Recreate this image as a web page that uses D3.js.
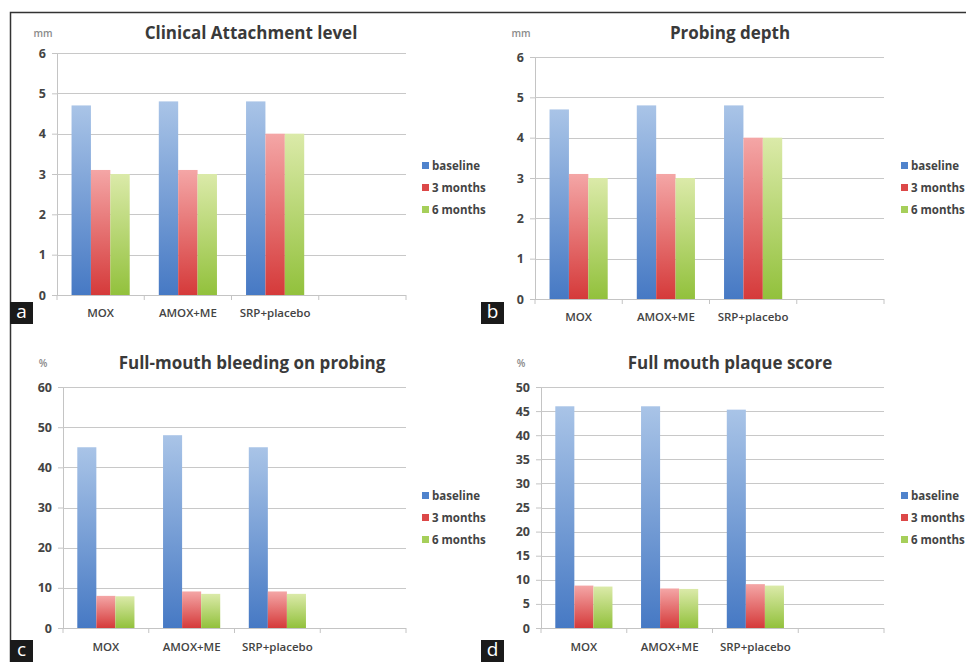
<!DOCTYPE html>
<html>
<head>
<meta charset="utf-8">
<script src="https://cdn.jsdelivr.net/npm/d3@7"></script>
<style>
  body { margin: 0; background: #fff; }
  svg text { font-family: "Open Sans", "DejaVu Sans", sans-serif; }
</style>
</head>
<body>
<svg id="fig" width="966" height="662"></svg>
<script>
// categories (4th slot is empty, as in the original Excel charts)
const categories = ["MOX", "AMOX+ME", "SRP+placebo", ""];
const seriesNames = ["baseline", "3 months", "6 months"];

// a: Clinical Attachment level (mm)
const calBaseline = [4.7, 4.8, 4.8];
const cal3m = [3.1, 3.1, 4.0];
const cal6m = [3.0, 3.0, 4.0];
// b: Probing depth (mm)
const pdBaseline = [4.7, 4.8, 4.8];
const pd3m = [3.1, 3.1, 4.0];
const pd6m = [3.0, 3.0, 4.0];
// c: Full-mouth bleeding on probing (%)
const bopBaseline = [45, 48, 45];
const bop3m = [8.0, 9.1, 9.1];
const bop6m = [7.9, 8.5, 8.5];
// d: Full mouth plaque score (%)
const fmpsBaseline = [46, 46, 45.3];
const fmps3m = [8.8, 8.2, 9.1];
const fmps6m = [8.6, 8.1, 8.8];

const ticksMm = [0, 1, 2, 3, 4, 5, 6];
const ticksBop = [0, 10, 20, 30, 40, 50, 60];
const ticksFmps = [0, 5, 10, 15, 20, 25, 30, 35, 40, 45, 50];

const panels = [
  {tag: "a", title: "Clinical Attachment level", unit: "mm", values: [calBaseline, cal3m, cal6m], ticks: ticksMm,
   left: 57, right: 406, top: 53, bottom: 295, titleX: 251, titleY: 33, unitX: 43, legX: 422, legY: 166, catY: 313, boxX: 10, boxY: 302},
  {tag: "b", title: "Probing depth", unit: "mm", values: [pdBaseline, pd3m, pd6m], ticks: ticksMm,
   left: 535, right: 884, top: 57, bottom: 299, titleX: 730, titleY: 33, unitX: 521, legX: 901, legY: 166, catY: 317, boxX: 481, boxY: 302},
  {tag: "c", title: "Full-mouth bleeding on probing", unit: "%", values: [bopBaseline, bop3m, bop6m], ticks: ticksBop,
   left: 63, right: 406, top: 387, bottom: 628, titleX: 252, titleY: 363, unitX: 43, legX: 422, legY: 496, catY: 647, boxX: 10, boxY: 640},
  {tag: "d", title: "Full mouth plaque score", unit: "%", values: [fmpsBaseline, fmps3m, fmps6m], ticks: ticksFmps,
   left: 541, right: 884, top: 387, bottom: 628, titleX: 730, titleY: 363, unitX: 521, legX: 901, legY: 496, catY: 647, boxX: 481, boxY: 640}
];

const svg = d3.select("#fig");
svg.append("rect").attr("width", 966).attr("height", 662).attr("fill", "#fff");

// gradients (light at top, saturated at bottom)
const gradStops = [
  ["#a9c4e7", "#4679c4"],
  ["#f4a6a6", "#d53a3a"],
  ["#dbeaa9", "#92c13c"]
];
const defs = svg.append("defs");
gradStops.forEach((c, i) => {
  const g = defs.append("linearGradient").attr("id", "grad" + i)
    .attr("x1", 0).attr("y1", 0).attr("x2", 0).attr("y2", 1);
  g.append("stop").attr("offset", "0%").attr("stop-color", c[0]);
  g.append("stop").attr("offset", "100%").attr("stop-color", c[1]);
});
const legendColors = ["#4f83cc", "#dc4848", "#a6cf5a"];

// outer frame (top and left only)
svg.append("path").attr("d", "M10.5,662 L10.5,12.5 L966,12.5")
  .attr("fill", "none").attr("stroke", "#333").attr("stroke-width", 1.5);

panels.forEach(p => {
  const g = svg.append("g");
  const maxV = p.ticks[p.ticks.length - 1];

  const x0 = d3.scaleBand().domain(categories).range([p.left, p.right]).padding(0);
  const x1 = d3.scaleBand().domain(seriesNames).range([0, x0.bandwidth()])
    .paddingInner(0).paddingOuter(0.75);
  const y = d3.scaleLinear().domain([0, maxV]).range([p.bottom, p.top]);

  // y axis
  const yAxis = g.append("g").attr("transform", `translate(${p.left},0)`)
    .call(d3.axisLeft(y).tickValues(p.ticks).tickFormat(d3.format("d")).tickSize(5).tickPadding(6));
  yAxis.select(".domain").attr("stroke", "#c4c4c4");
  yAxis.selectAll(".tick line").attr("stroke", "#c4c4c4");
  yAxis.selectAll(".tick text").attr("fill", "#444").style("font-size", "12.5px").style("font-weight", "700");

  // gridlines
  g.append("g").selectAll("line").data(p.ticks.filter(t => t > 0)).join("line")
    .attr("x1", p.left).attr("x2", p.right)
    .attr("y1", d => Math.round(y(d)) + 0.5).attr("y2", d => Math.round(y(d)) + 0.5)
    .attr("stroke", "#c8c8c8").attr("stroke-width", 1.2);

  // bars
  const rows = categories.slice(0, 3).map((c, ci) => ({cat: c, vals: p.values.map(s => s[ci])}));
  const grp = g.append("g").selectAll("g").data(rows).join("g")
    .attr("transform", d => `translate(${x0(d.cat)},0)`);
  grp.selectAll("rect").data(d => d.vals.map((v, i) => ({s: seriesNames[i], i: i, v: v}))).join("rect")
    .attr("x", d => x1(d.s))
    .attr("width", x1.bandwidth())
    .attr("y", d => y(d.v))
    .attr("height", d => y(0) - y(d.v))
    .attr("fill", d => `url(#grad${d.i})`);

  // x axis
  const xAxis = g.append("g").attr("transform", `translate(0,${p.bottom})`);
  xAxis.append("line").attr("x1", p.left).attr("x2", p.right).attr("y1", 0.5).attr("y2", 0.5)
    .attr("stroke", "#c4c4c4").attr("stroke-width", 1.2);
  const bounds = categories.map(c => x0(c)).concat([p.right]);
  xAxis.selectAll(".xt").data(bounds).join("line").attr("class", "xt")
    .attr("x1", d => d).attr("x2", d => d).attr("y1", 0).attr("y2", 5)
    .attr("stroke", "#c4c4c4");
  g.selectAll(".cat").data(categories).join("text").attr("class", "cat")
    .attr("x", d => x0(d) + x0.bandwidth() / 2)
    .attr("y", p.catY + 4)
    .attr("text-anchor", "middle")
    .attr("fill", "#444").style("font-size", "11.5px").style("font-weight", "600")
    .text(d => d);

  // title and unit
  g.append("text").attr("x", p.titleX).attr("y", p.titleY + 6)
    .attr("text-anchor", "middle").attr("fill", "#3a3a3a")
    .style("font-size", "17px").style("font-weight", "700")
    .text(p.title);
  g.append("text").attr("x", p.unitX).attr("y", p.titleY + 4)
    .attr("text-anchor", "middle").attr("fill", "#8a8a8a")
    .style("font-size", "10px").style("font-weight", "600")
    .text(p.unit);

  // legend
  const leg = g.append("g").attr("transform", `translate(${p.legX},${p.legY})`);
  seriesNames.forEach((s, i) => {
    leg.append("rect").attr("x", 0).attr("y", i * 22 - 4).attr("width", 7).attr("height", 7)
      .attr("fill", legendColors[i]);
    leg.append("text").attr("x", 10).attr("y", i * 22 + 4)
      .attr("fill", "#444").style("font-size", "11.5px").style("font-weight", "700")
      .text(s);
  });

  // panel tag
  svg.append("rect").attr("x", p.boxX).attr("y", p.boxY).attr("width", 23).attr("height", 22)
    .attr("fill", "#1a1a1a");
  svg.append("text").attr("x", p.boxX + 11.5).attr("y", p.boxY + 16)
    .attr("text-anchor", "middle").attr("fill", "#fff")
    .style("font-size", "19px")
    .text(p.tag);
});
</script>
</body>
</html>
